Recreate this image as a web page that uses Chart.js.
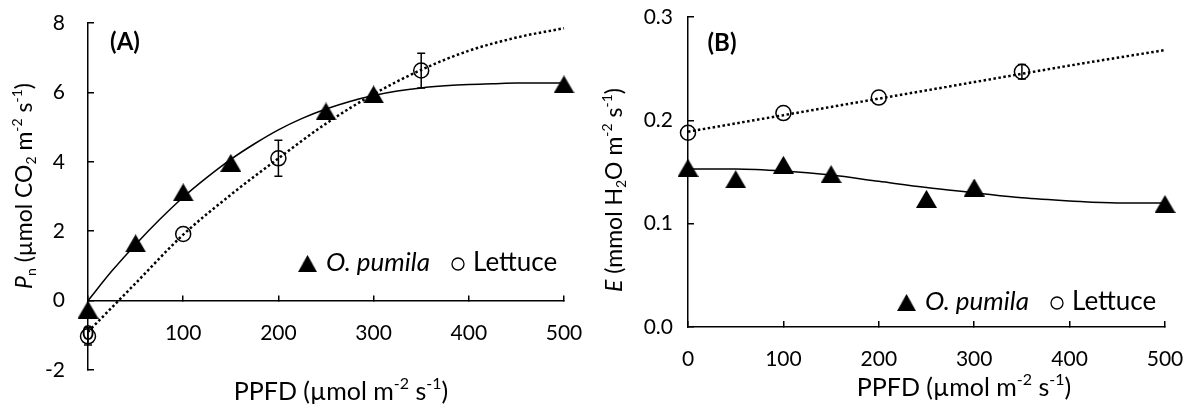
<!DOCTYPE html>
<html>
<head>
<meta charset="utf-8">
<script src="https://cdn.jsdelivr.net/npm/chart.js@4.4.1/dist/chart.umd.min.js"></script>
<style>
    body { margin: 0; background: #fff; }
    #wrap { position: relative; width: 1192px; height: 412px; }
    .panel { position: absolute; top: 0; width: 596px; height: 412px; }
</style>
</head>
<body>
<div id="wrap">
    <div class="panel" style="left:0"><canvas id="chartA" width="596" height="412"></canvas></div>
    <div class="panel" style="left:596px"><canvas id="chartB" width="596" height="412"></canvas></div>
</div>
<script>
// (A) 광합성 속도 Pn
const pumilaPpfdA = [0, 50, 100, 150, 250, 300, 500];
const pumilaPnA = [-0.26, 1.65, 3.12, 3.97, 5.45, 5.94, 6.23];
const lettucePpfdA = [0, 100, 200, 350];
const lettucePnA = [-1.03, 1.92, 4.1, 6.63];
const lettuceErrA = [0.25, 0, 0.52, 0.5];
const pumilaFitPpfdA = [0, 25, 50, 75, 100, 125, 150, 175, 200, 225, 250, 275, 300, 325, 350, 375, 400, 425, 450, 475, 500];
const pumilaFitA = [0.0, 0.85, 1.62, 2.33, 2.98, 3.55, 4.07, 4.52, 4.92, 5.25, 5.52, 5.74, 5.91, 6.04, 6.13, 6.19, 6.23, 6.25, 6.27, 6.27, 6.27];
const lettuceFitPpfdA = [0, 50, 100, 150, 200, 250, 300, 350, 400, 450, 500];
const lettuceFitA = [-0.9, 0.5, 1.9, 3.05, 4.1, 5.1, 5.95, 6.65, 7.2, 7.58, 7.85];

// (B) 증산 속도 E
const pumilaPpfdB = [0, 50, 100, 150, 250, 300, 500];
const pumilaEB = [0.154, 0.143, 0.157, 0.148, 0.124, 0.135, 0.119];
const lettucePpfdB = [0, 100, 200, 350];
const lettuceEB = [0.188, 0.207, 0.222, 0.247];
const lettuceErrB = [0, 0, 0, 0.007];
const pumilaFitPpfdB = [0, 50, 100, 150, 200, 250, 300, 350, 400, 450, 500];
const pumilaFitB = [0.153, 0.153, 0.151, 0.147, 0.141, 0.135, 0.13, 0.125, 0.122, 0.12, 0.12];
const lettuceFitPpfdB = [0, 100, 200, 300, 400, 500];
const lettuceFitB = [0.189, 0.205, 0.221, 0.237, 0.253, 0.268];

const FONT = 'Lato';

function toXY(xs, ys) {
    return xs.map((x, i) => ({ x: x, y: ys[i] }));
}

// 삼각형 마커 (Excel처럼 중심 기준)
function triangleImage(w, h) {
    const c = document.createElement('canvas');
    c.width = w; c.height = h;
    const g = c.getContext('2d');
    g.fillStyle = '#000';
    g.beginPath();
    g.moveTo(w / 2, 0);
    g.lineTo(w, h);
    g.lineTo(0, h);
    g.closePath();
    g.fill();
    return c;
}
const triMarker = triangleImage(21, 18);

// 위/아래 첨자가 섞인 텍스트
function drawRuns(ctx, runs, x, y, size) {
    const parts = runs.map(r => {
        const s = r.sub || r.sup ? Math.round(size * 0.62) : size;
        const font = (r.i ? 'italic ' : '') + (r.b ? 'bold ' : '') + s + 'px ' + FONT;
        ctx.font = font;
        return { t: r.t, font: font, w: ctx.measureText(r.t).width, dy: r.sub ? size * 0.28 : (r.sup ? -size * 0.32 : 0) };
    });
    const total = parts.reduce((a, p) => a + p.w, 0);
    let cx = x - total / 2;
    ctx.textBaseline = 'middle';
    ctx.textAlign = 'left';
    parts.forEach(p => {
        ctx.font = p.font;
        ctx.fillText(p.t, cx, y + p.dy);
        cx += p.w;
    });
}

const decorPlugin = {
    id: 'decor',
    afterDatasetsDraw(chart, args, opts) {
        const ctx = chart.ctx;
        const xs = chart.scales.x, ys = chart.scales.y;
        ctx.save();
        // 오차 막대
        chart.data.datasets.forEach(ds => {
            if (!ds.errors) return;
            ctx.strokeStyle = '#000';
            ctx.lineWidth = 1.5;
            ds.data.forEach((p, i) => {
                if (!ds.errors[i]) return;
                const px = xs.getPixelForValue(p.x);
                const top = ys.getPixelForValue(p.y + ds.errors[i]);
                const bot = ys.getPixelForValue(p.y - ds.errors[i]);
                ctx.beginPath();
                ctx.moveTo(px, top); ctx.lineTo(px, bot);
                ctx.moveTo(px - 4, top); ctx.lineTo(px + 4, top);
                ctx.moveTo(px - 4, bot); ctx.lineTo(px + 4, bot);
                ctx.stroke();
            });
        });
        ctx.fillStyle = '#000';
        // 패널 라벨
        drawRuns(ctx, [{ t: opts.label, b: true }], opts.labelX, opts.labelY, 24);
        // x축 제목
        drawRuns(ctx, [{ t: 'PPFD (µmol m' }, { t: '-2', sup: true }, { t: ' s' }, { t: '-1', sup: true }, { t: ')' }], opts.xTitleX, opts.xTitleY, 25);
        // y축 제목
        ctx.save();
        ctx.translate(opts.yTitleX, opts.yTitleY);
        ctx.rotate(-Math.PI / 2);
        drawRuns(ctx, opts.yTitle, 0, 0, 23);
        ctx.restore();
        // 범례
        const lx = opts.legendX, ly = opts.legendY;
        ctx.drawImage(triMarker, lx - 10, ly - 8, 19, 17);
        ctx.font = 'italic 26px ' + FONT;
        ctx.textAlign = 'left';
        ctx.textBaseline = 'middle';
        ctx.fillText('O. pumila', lx + 18, ly);
        ctx.lineWidth = 1.3;
        ctx.beginPath();
        ctx.arc(lx + 150, ly + 1, 6, 0, Math.PI * 2);
        ctx.stroke();
        ctx.font = '26px ' + FONT;
        ctx.fillText('Lettuce', lx + 165, ly);
        ctx.restore();
    }
};

function axisCommon() {
    return {
        type: 'linear',
        grid: { drawOnChartArea: false, drawTicks: true, tickLength: -6, color: '#000', lineWidth: 1.5 },
        border: { display: true, color: '#000', width: 1.5 },
        ticks: { color: '#000', font: { family: FONT, size: 21 } }
    };
}

function makeDatasets(pX, pY, lX, lY, lErr, fpX, fpY, flX, flY) {
    return [
        {
            label: 'O. pumila',
            data: toXY(pX, pY),
            pointStyle: triMarker,
            pointRadius: 10,
            showLine: false,
            clip: false,
            order: 1
        },
        {
            label: 'Lettuce',
            data: toXY(lX, lY),
            errors: lErr,
            pointStyle: 'circle',
            pointRadius: 7.5,
            borderColor: '#000',
            backgroundColor: 'rgba(0,0,0,0)',
            borderWidth: 1.5,
            showLine: false,
            clip: false,
            order: 2
        },
        {
            label: 'fit O. pumila',
            data: toXY(fpX, fpY),
            showLine: true,
            pointRadius: 0,
            borderColor: '#000',
            borderWidth: 1.5,
            cubicInterpolationMode: 'monotone',
            clip: false,
            order: 3
        },
        {
            label: 'fit Lettuce',
            data: toXY(flX, flY),
            showLine: true,
            pointRadius: 0,
            borderColor: '#000',
            borderWidth: 2.5,
            borderDash: [2.5, 2.5],
            cubicInterpolationMode: 'monotone',
            clip: false,
            order: 4
        }
    ];
}

// 축 라벨 여백이 차트 영역을 줄이지 않도록
function noPad(s) {
    s.paddingTop = 0; s.paddingBottom = 0; s.paddingLeft = 0; s.paddingRight = 0;
}

// (A)
const xA = axisCommon();
Object.assign(xA, { min: 0, max: 500, position: { y: 0 }, afterFit: s => { s.height = 0; noPad(s); } });
xA.ticks = Object.assign(xA.ticks, { stepSize: 100, padding: 26 });
const yA = axisCommon();
Object.assign(yA, { min: -2, max: 8, position: 'left', afterFit: s => { s.width = 88; noPad(s); } });
yA.ticks = Object.assign(yA.ticks, { stepSize: 2, padding: 29 });

new Chart(document.getElementById('chartA'), {
    type: 'scatter',
    data: { datasets: makeDatasets(pumilaPpfdA, pumilaPnA, lettucePpfdA, lettucePnA, lettuceErrA, pumilaFitPpfdA, pumilaFitA, lettuceFitPpfdA, lettuceFitA) },
    options: {
        responsive: false,
        animation: false,
        layout: { autoPadding: false, padding: { left: 0, right: 32, top: 23, bottom: 42 } },
        scales: { x: xA, y: yA },
        plugins: {
            legend: { display: false },
            tooltip: { enabled: false },
            decor: {
                label: '(A)', labelX: 125, labelY: 42,
                xTitleX: 341, xTitleY: 392,
                yTitleX: 25, yTitleY: 186,
                yTitle: [{ t: 'P', i: true }, { t: 'n', sub: true }, { t: ' (µmol CO' }, { t: '2', sub: true }, { t: ' m' }, { t: '-2', sup: true }, { t: ' s' }, { t: '-1', sup: true }, { t: ')' }],
                legendX: 308, legendY: 263
            }
        }
    },
    plugins: [decorPlugin]
});

// (B)
const xB = axisCommon();
Object.assign(xB, { min: 0, max: 500, position: 'bottom', afterFit: s => { s.height = 85; noPad(s); } });
xB.ticks = Object.assign(xB.ticks, { stepSize: 100, padding: 26 });
const yB = axisCommon();
Object.assign(yB, { min: 0, max: 0.3, position: 'left', afterFit: s => { s.width = 92; noPad(s); } });
yB.ticks = Object.assign(yB.ticks, { stepSize: 0.1, padding: 21, callback: v => v.toFixed(1) });

new Chart(document.getElementById('chartB'), {
    type: 'scatter',
    data: { datasets: makeDatasets(pumilaPpfdB, pumilaEB, lettucePpfdB, lettuceEB, lettuceErrB, pumilaFitPpfdB, pumilaFitB, lettuceFitPpfdB, lettuceFitB) },
    options: {
        responsive: false,
        animation: false,
        layout: { autoPadding: false, padding: { left: 0, right: 27, top: 17, bottom: 0 } },
        scales: { x: xB, y: yB },
        plugins: {
            legend: { display: false },
            tooltip: { enabled: false },
            decor: {
                label: '(B)', labelX: 126, labelY: 43,
                xTitleX: 368, xTitleY: 388,
                yTitleX: 19, yTitleY: 190,
                yTitle: [{ t: 'E', i: true }, { t: ' (mmol H' }, { t: '2', sub: true }, { t: 'O m' }, { t: '-2', sup: true }, { t: ' s' }, { t: '-1', sup: true }, { t: ')' }],
                legendX: 311, legendY: 302
            }
        }
    },
    plugins: [decorPlugin]
});
</script>
</body>
</html>
